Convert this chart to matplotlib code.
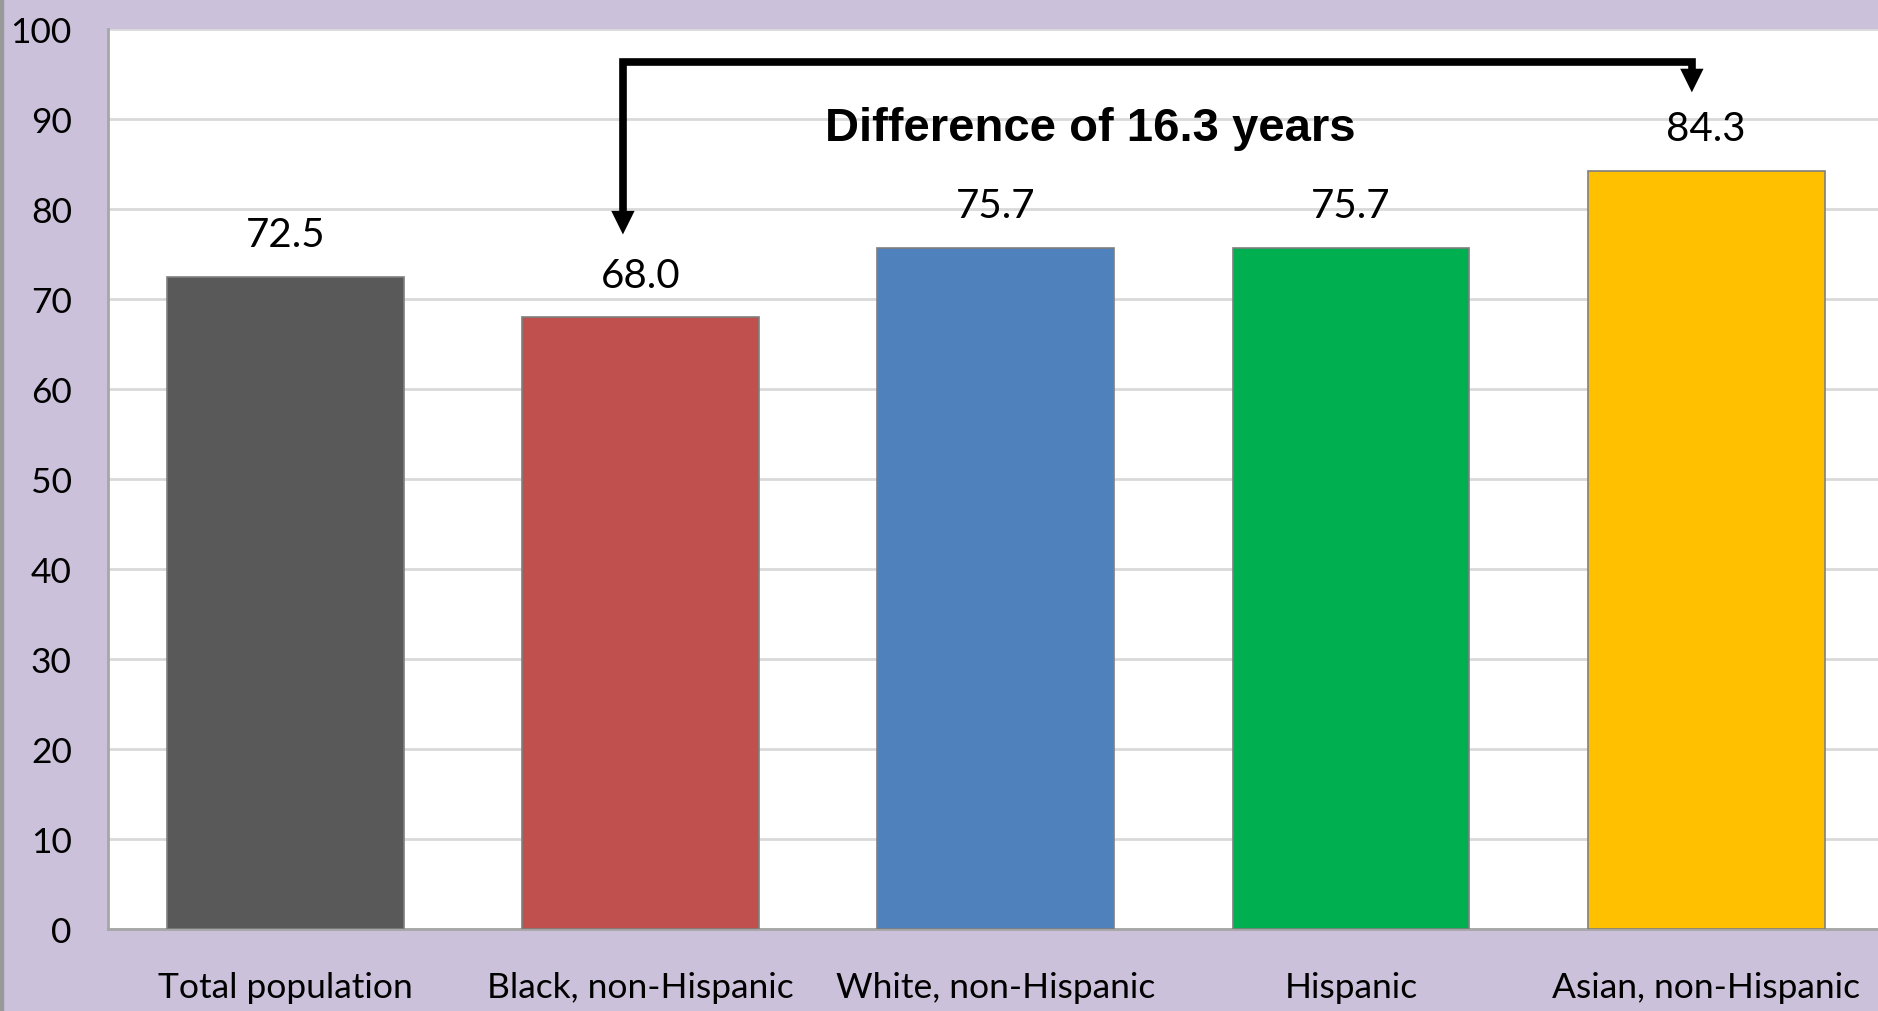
import matplotlib.pyplot as plt
import numpy as np

categories = ["Total population", "Black, non-Hispanic", "White, non-Hispanic",
              "Hispanic", "Asian, non-Hispanic"]
values = [72.5, 68.0, 75.7, 75.7, 84.3]
colors = ["#595959", "#C0504D", "#4F81BD", "#00B050", "#FFC000"]
yticks = [0, 10, 20, 30, 40, 50, 60, 70, 80, 90, 100]

bg = "#CBC1DA"

fig = plt.figure(figsize=(18.78, 10.12), dpi=100)
fig.patch.set_facecolor(bg)
ax = fig.add_axes([0.0575, 0.081, 0.9455, 0.889])
ax.set_facecolor("white")

x = np.arange(len(categories))
bars = ax.bar(x, values, width=0.667, color=colors, edgecolor="#7F7F7F",
              linewidth=1.2, zorder=3)

for xi, v in zip(x, values):
    ax.text(xi, v + 3.4, f"{v:.1f}", ha="center", va="baseline",
            fontsize=29, family="Lato", zorder=4)

ax.set_xlim(-0.5, 4.5)
ax.set_ylim(0, 100)
ax.set_yticks(yticks)
ax.set_xticks(x)
ax.set_xticklabels(categories, fontsize=25.5, family="Lato")
ax.tick_params(axis="y", labelsize=25.5, length=0, pad=26)
ax.tick_params(axis="x", length=0, pad=30)
for lbl in ax.get_yticklabels():
    lbl.set_family("Lato")

ax.grid(axis="y", color="#D9D9D9", linewidth=2, zorder=0)
for side in ["top", "right"]:
    ax.spines[side].set_visible(False)
for side in ["left", "bottom"]:
    ax.spines[side].set_color("#A6A6A6")
    ax.spines[side].set_linewidth(2)

# bracket from the lowest group to the highest one
lo, hi = int(np.argmin(values)), int(np.argmax(values))
top = 96.4
x_lo, x_hi = lo - 0.05, hi - 0.04
tip_lo, tip_hi = values[lo] + 9.2, values[hi] + 8.7
head = 2.6  # arrowhead length in data units
ax.plot([x_lo, x_lo, x_hi, x_hi], [tip_lo + head, top, top, tip_hi + head],
        color="black", linewidth=5.5, solid_joinstyle="miter",
        solid_capstyle="butt", zorder=5)
arrow = dict(arrowstyle="-|>,head_length=0.85,head_width=0.42", color="black",
             linewidth=0, mutation_scale=20, shrinkA=0, shrinkB=0)
ax.annotate("", xy=(x_lo, tip_lo), xytext=(x_lo, tip_lo + head + 1),
            arrowprops=arrow, zorder=5)
ax.annotate("", xy=(x_hi, tip_hi), xytext=(x_hi, tip_hi + head + 1),
            arrowprops=arrow, zorder=5)

ax.text(2.267, 87.7, f"Difference of {values[hi] - values[lo]:.1f} years",
        ha="center", va="baseline", fontsize=34, fontweight="bold",
        family="Liberation Sans", zorder=5)

# thin grey strip down the left edge
fig.add_artist(plt.Rectangle((0, 0), 3 / 1878, 1, transform=fig.transFigure,
                             color="#999999", zorder=10))

fig.savefig("out.png", dpi=100, facecolor=bg)
